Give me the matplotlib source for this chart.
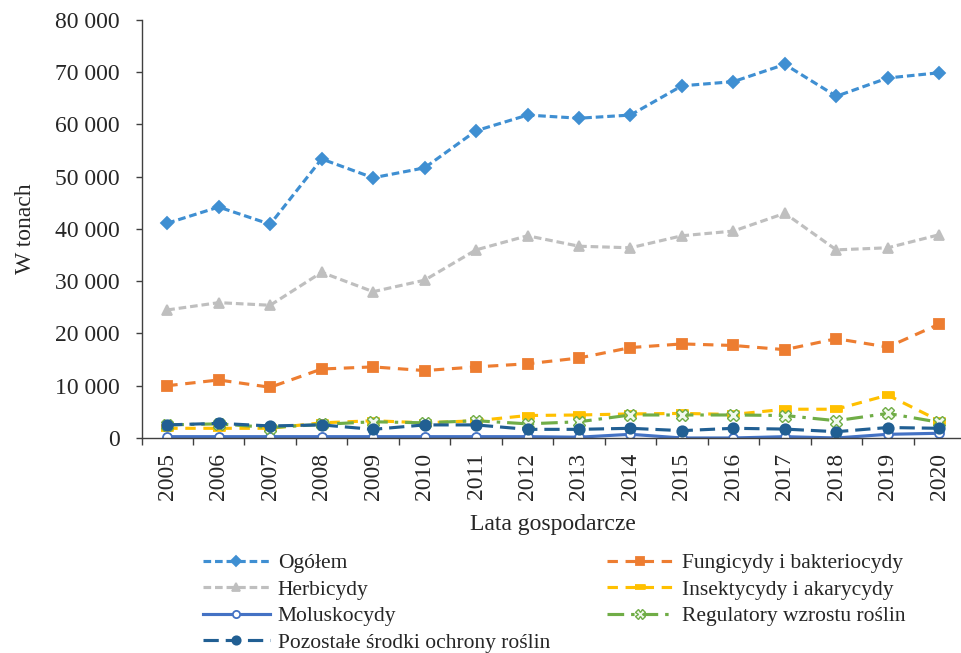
import matplotlib
matplotlib.use("Agg")
import matplotlib.pyplot as plt
from matplotlib.ticker import FuncFormatter, MultipleLocator, FixedLocator

plt.rcParams['font.family'] = ['Liberation Serif', 'DejaVu Serif']
plt.rcParams['lines.scale_dashes'] = False

years = [str(y) for y in range(2005, 2021)]

ogolem = [41100, 44200, 40900, 53400, 49800, 51700, 58800, 61800,
          61200, 61800, 67400, 68200, 71500, 65400, 68900, 69900]
fungicydy = [10000, 11100, 9700, 13200, 13600, 12900, 13600, 14200,
             15300, 17300, 18000, 17700, 16900, 19000, 17400, 21800]
herbicydy = [24500, 25900, 25400, 31700, 28000, 30200, 36000, 38700,
             36700, 36400, 38700, 39600, 43000, 36000, 36400, 38900]
insektycydy = [1850, 1850, 1850, 2900, 3300, 2900, 3300, 4300,
               4400, 4600, 4700, 4500, 5500, 5500, 8200, 3300]
moluskocydy = [250, 250, 250, 250, 250, 250, 250, 250,
               150, 700, 0, 0, 250, 0, 700, 900]
regulatory = [2500, 2700, 2000, 2600, 3100, 2900, 3300, 2700,
              3100, 4400, 4400, 4400, 4300, 3300, 4700, 3000]
pozostale = [2500, 2800, 2300, 2500, 1650, 2500, 2500, 1650,
             1650, 1850, 1400, 1850, 1700, 1200, 2000, 1850]

y_ticks = [0, 10000, 20000, 30000, 40000, 50000, 60000, 70000, 80000]

fig = plt.figure(figsize=(9.62, 6.53), dpi=100)
ax = fig.add_axes([0.1471, 0.3293, 0.8560, 0.6401])

x = list(range(len(years)))
lw = 2.25
bar_marker = [(-1, -0.45), (1, -0.45), (1, 0.45), (-1, 0.45)]

series = [
    dict(y=ogolem, label='Ogółem', color='#3F8FD2', marker='D', ms=6.3,
         dashes=(5.5, 2.8)),
    dict(y=fungicydy, label='Fungicydy i bakteriocydy', color='#ED7D31',
         marker='s', ms=7, dashes=(7.5, 5.5)),
    dict(y=herbicydy, label='Herbicydy', color='#BFBFBF', marker='^', ms=7.5,
         dashes=(5.5, 2.8)),
    dict(y=insektycydy, label='Insektycydy i akarycydy', color='#FFC000',
         marker=bar_marker, ms=8.5, dashes=(7.5, 5.5)),
    dict(y=moluskocydy, label='Moluskocydy', color='#4472C4', marker='o', ms=6.5,
         mfc='white', dashes=None),
    dict(y=regulatory, label='Regulatory wzrostu roślin', color='#70AD47',
         marker='X', ms=8.5, mfc='#F2F8EE', mew=1.0, dashes=(12, 5, 2.5, 5)),
    dict(y=pozostale, label='Pozostałe środki ochrony roślin', color='#215F93',
         marker='o', ms=7.5, dashes=(11, 5)),
]

handles = {}
for s in series:
    kw = dict(color=s['color'], lw=lw, marker=s['marker'], ms=s['ms'],
              mec=s['color'], mfc=s.get('mfc', s['color']),
              mew=s.get('mew', 1.3), label=s['label'])
    (line,) = ax.plot(x, s['y'], **kw)
    if s['dashes'] is not None:
        line.set_dashes(s['dashes'])
    handles[s['label']] = line

ax.set_xlim(-0.5, len(years) - 0.5)
ax.set_ylim(0, 80000)
ax.yaxis.set_major_locator(FixedLocator(y_ticks))
ax.yaxis.set_major_formatter(FuncFormatter(lambda v, p: f"{int(v):,}".replace(",", " ")))

ax.set_xticks(x)
ax.set_xticklabels(years, rotation=90)
ax.xaxis.set_minor_locator(MultipleLocator(1, offset=0.5))

for side in ('top', 'right'):
    ax.spines[side].set_visible(False)
for side in ('left', 'bottom'):
    ax.spines[side].set_color('#404040')
    ax.spines[side].set_linewidth(1.0)

ax.tick_params(axis='y', which='major', direction='out', length=4.5, width=1.0,
               color='#404040', labelsize=17, labelcolor='#262626', pad=11)
ax.tick_params(axis='x', which='major', length=0, labelsize=17,
               labelcolor='#262626', pad=10.5)
ax.tick_params(axis='x', which='minor', direction='out', length=5, width=1.0,
               color='#404040')

ax.set_ylabel('W tonach', fontsize=17, color='#262626', labelpad=14)
ax.set_xlabel('Lata gospodarcze', fontsize=17, color='#262626', labelpad=10)

order = ['Ogółem', 'Herbicydy', 'Moluskocydy', 'Pozostałe środki ochrony roślin',
         'Fungicydy i bakteriocydy', 'Insektycydy i akarycydy',
         'Regulatory wzrostu roślin']
leg = fig.legend([handles[k] for k in order], order, ncol=2,
                 loc='upper left', bbox_to_anchor=(0.211, 0.153),
                 frameon=False, fontsize=15.5, borderpad=0, borderaxespad=0,
                 handlelength=3.1, handletextpad=0.37, columnspacing=2.65,
                 labelspacing=0.3, markerscale=0.8)
for t in leg.get_texts():
    t.set_color('#262626')

fig.savefig('out.png', dpi=100)
